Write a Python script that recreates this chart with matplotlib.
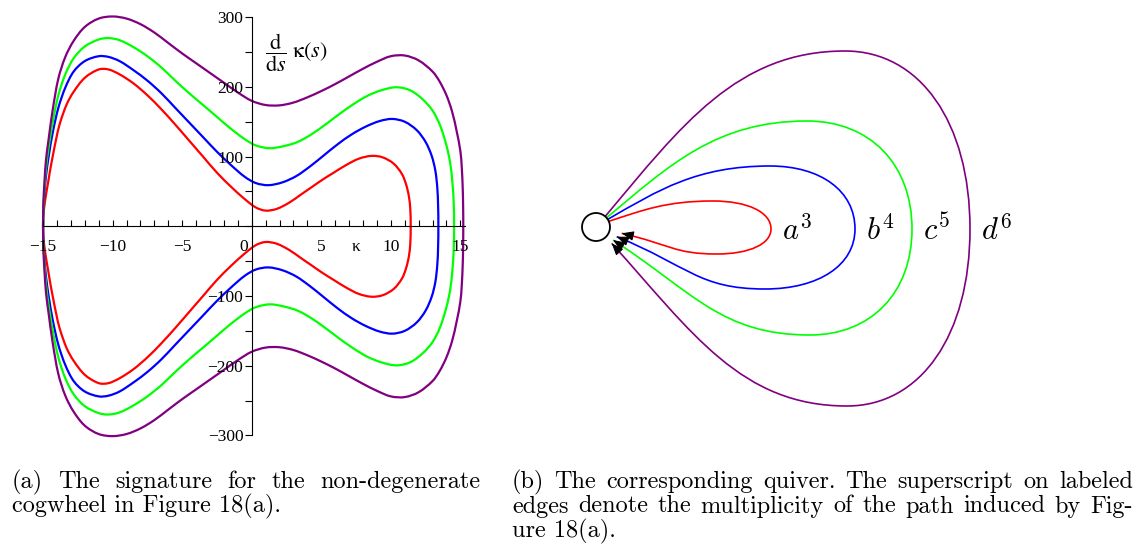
import numpy as np
import matplotlib
matplotlib.use('Agg')
import matplotlib.pyplot as plt
from matplotlib.path import Path
from matplotlib.patches import PathPatch, Circle
from matplotlib.ticker import MultipleLocator

# =========================
# DATA (upper branches, lower branch is the mirror)
# =========================
red_k = [-15.0, -14.97, -14.9, -14.79, -14.62, -14.47, -14.3, -14.05, -13.8, -13.3,
         -12.8, -12.0, -11.0, -10.3, -9.5, -8.5, -7.5, -6.5, -5.5, -4.5,
         -3.5, -2.5, -1.5, -0.5, 0.3, 1.0, 1.8, 2.7, 3.5, 4.3,
         5.1, 5.9, 6.8, 7.7, 8.6, 9.4, 10.2, 10.8, 11.1, 11.3, 11.4, 11.43]
red_y = [0, 17, 30, 45, 65, 83, 101, 126, 147, 175,
         193, 213, 225, 225, 218, 205, 188, 168, 146, 123,
         100, 77, 57, 39, 27, 22.5, 25, 34, 45, 56,
         67, 77, 88, 97, 101, 99, 90, 75, 60, 43, 25, 0]

blue_k = [-15.0, -14.97, -14.9, -14.79, -14.6, -14.3, -13.9, -13.4, -12.8, -12.0,
          -11.0, -10.3, -9.5, -8.5, -7.5, -6.5, -5.5, -4.5, -3.5, -2.5,
          -1.5, -0.5, 0.3, 1.2, 2.2, 3.2, 4.2, 5.2, 6.2, 7.2,
          8.2, 9.2, 10.1, 11.0, 11.86, 12.5, 12.94, 13.2, 13.34, 13.4, 13.42]
blue_y = [0, 27, 48, 72, 100, 135, 170, 199, 222, 237,
          244, 243, 237, 224, 209, 191, 170, 149, 128, 107,
          88, 71, 62, 59, 63, 72, 86, 102, 118, 132,
          143, 151, 154, 150, 138, 121, 101, 80, 56, 30, 0]

green_k = [-15.0, -14.97, -14.9, -14.79, -14.6, -14.3, -13.9, -13.4, -12.8, -12.0,
           -11.0, -10.3, -9.5, -8.5, -7.5, -6.5, -5.5, -4.5, -3.5, -2.5,
           -1.5, -0.5, 0.3, 1.3, 2.3, 3.3, 4.3, 5.3, 6.3, 7.3,
           8.3, 9.3, 10.4, 11.4, 12.3, 13.0, 13.54, 14.0, 14.26, 14.42, 14.52, 14.55]
green_y = [0, 30, 55, 83, 113, 150, 188, 218, 241, 258,
           268, 270, 267, 257, 244, 228, 209, 191, 174, 157,
           140, 125, 116, 112, 115, 121, 132, 146, 161, 175,
           187, 195, 199.5, 195, 182, 166, 145, 116, 92, 65, 35, 0]

purple_k = [-15.0, -14.97, -14.9, -14.79, -14.6, -14.3, -13.9, -13.4, -12.8, -12.0,
            -11.0, -10.0, -9.0, -8.0, -7.0, -6.0, -5.0, -4.0, -3.0, -2.0,
            -1.0, 0.0, 1.0, 2.0, 3.0, 4.0, 5.0, 6.0, 7.0, 8.0,
            9.0, 10.0, 11.0, 12.0, 13.0, 13.5, 14.0, 14.4, 14.74, 15.0,
            15.1, 15.17, 15.2, 15.21]
purple_y = [0, 35, 63, 95, 125, 168, 212, 243, 266, 286,
            298, 301, 298, 290, 278, 263, 248, 234, 220, 206,
            192, 180, 174, 173.5, 177.5, 185, 194, 204, 215, 226,
            236, 244, 245, 238, 222, 208, 188, 165, 136, 108,
            85, 55, 28, 0]

# quiver loops (node at 0,0; units = pixels, y up)
loop_labels = ['a', 'b', 'c', 'd']
loop_mult = [3, 4, 5, 6]
loop_right = [175, 259, 316, 374]
loop_top = [26, 61, 106, 176]
loop_top_x = [117, 174, 211, 249]
loop_bottom = [-27, -62, -108, -179]
loop_bottom_x = [121, 169, 214, 251]
start_angle = [24, 33, 41, 49]
depart_angle = [18, 30, 40, 50]
end_x = [25.7, 20.7, 17.0, 15.7]
end_y = [-6.3, -9.7, -13.0, -16.3]
arrive_angle = [13, 22, 33, 48]

colors = ['#ff0000', '#0000ff', '#00ff00', '#800080']

plt.rcParams['font.family'] = ['Liberation Serif', 'DejaVu Serif']

W, H = 1138, 555
fig = plt.figure(figsize=(W / 100, H / 100), dpi=100)

# screen scale of the left panel (px per unit), used only to space the spline
SX, SY = 13.91, 0.697


def closed_smooth_path(k, y):
    # closed curve: upper branch, then mirrored lower branch back
    k = np.array(k, dtype=float)
    y = np.array(y, dtype=float)
    px = np.concatenate([k, k[-2:0:-1]]) * SX
    py = np.concatenate([y, -y[-2:0:-1]]) * SY
    P = np.column_stack([px, py])
    n = len(P)
    # chord length spline through the read points
    d = np.array([np.hypot(*(P[(i + 1) % n] - P[i])) for i in range(n)])
    m = []
    for i in range(n):
        m.append((P[(i + 1) % n] - P[i - 1]) / (d[i - 1] + d[i]))
    verts = [P[0]]
    for i in range(n):
        j = (i + 1) % n
        verts += [P[i] + m[i] * d[i] / 3, P[j] - m[j] * d[i] / 3, P[j]]
    verts = np.array(verts) / [SX, SY]
    codes = [Path.MOVETO] + [Path.CURVE4] * (3 * n)
    return Path(verts, codes)


# =========================
# LEFT: SIGNATURE CURVES
# =========================
ax1 = fig.add_axes([40 / W, 1 - 442.6 / H, 428 / W, 432.6 / H])
ax1.set_xlim(-15.22, 15.55)
ax1.set_ylim(-310.3, 310.3)

curves = [(red_k, red_y), (blue_k, blue_y), (green_k, green_y), (purple_k, purple_y)]
for (k, y), c in zip(curves, colors):
    ax1.add_patch(PathPatch(closed_smooth_path(k, y), fill=False,
                            edgecolor=c, lw=1.6, joinstyle='round'))

ax1.spines['left'].set_position(('data', 0))
ax1.spines['bottom'].set_position(('data', 0))
ax1.spines['top'].set_visible(False)
ax1.spines['right'].set_visible(False)
ax1.spines['left'].set_bounds(-300, 300)
ax1.spines['bottom'].set_bounds(-15, 15.33)
for s in ['left', 'bottom']:
    ax1.spines[s].set_linewidth(0.8)

xt = [-15, -10, -5, 5, 10, 15]
ax1.set_xticks(xt)
ax1.set_xticklabels([str(v).replace('-', '\u2212') for v in xt])
ax1.xaxis.set_minor_locator(MultipleLocator(1))
ax1.tick_params(axis='x', which='both', direction='in', length=4, width=0.8,
                pad=9, labelsize=12.5)

yt = [-300, -200, -100, 100, 200, 300]
ax1.set_yticks(yt)
ax1.set_yticklabels([str(v).replace('-', '\u2212') for v in yt])
ax1.yaxis.set_minor_locator(MultipleLocator(50))
ax1.tick_params(axis='y', which='both', direction='out', length=5, width=0.8,
                pad=1, labelsize=12.5)

ax1.text(-0.58, -18, '0', ha='center', va='top', fontsize=12.5)
ax1.text(7.5, -18, '\u03ba', ha='center', va='top', fontsize=12.5)
ax1.text(0.95, 250, r'$\dfrac{\mathrm{d}}{\mathrm{d}s}\;\mathrm{\kappa}(s)$',
         math_fontfamily='stix', fontsize=16, ha='left', va='center')

# =========================
# RIGHT: QUIVER
# =========================
ax2 = fig.add_axes([560 / W, 1 - 460 / H, 578 / W, 460 / H])
ax2.set_xlim(-36, 542)
ax2.set_ylim(-233, 227)
ax2.axis('off')

kq = 0.6
for i in range(len(loop_labels)):
    sa = np.radians(start_angle[i])
    da = np.radians(depart_angle[i])
    aa = np.radians(arrive_angle[i])
    S = np.array([14 * np.cos(sa), 14 * np.sin(sa)])
    T = np.array([loop_top_x[i], loop_top[i]])
    R = np.array([loop_right[i], -2.0])
    B = np.array([loop_bottom_x[i], loop_bottom[i]])
    E = np.array([end_x[i], end_y[i]])

    a1 = 0.55 * (T[1] - S[1]) / np.sin(da)
    a4 = 0.55 * (E[1] - B[1]) / np.sin(aa)
    dep = np.array([np.cos(da), np.sin(da)])
    arr = np.array([np.cos(aa), -np.sin(aa)])

    verts = [S,
             S + a1 * dep, T - [0.45 * (T[0] - S[0]), 0], T,
             T + [kq * (R[0] - T[0]), 0], R + [0, kq * (T[1] - R[1])], R,
             R - [0, kq * (R[1] - B[1])], B + [kq * (R[0] - B[0]), 0], B,
             B - [0.45 * (B[0] - E[0]), 0], E + a4 * arr, E]
    codes = [Path.MOVETO] + [Path.CURVE4] * 12
    ax2.add_patch(PathPatch(Path(verts, codes), fill=False,
                            edgecolor=colors[i], lw=1.2))

    # black arrow head at the node
    ax2.annotate('', xy=E, xytext=E + 9 * arr,
                 arrowprops=dict(arrowstyle='-|>,head_length=0.45,head_width=0.18',
                                 color='black', lw=0.8, mutation_scale=16,
                                 shrinkA=0, shrinkB=0))

    ax2.text(loop_right[i] + 11, -13,
             r'$%s^{%d}$' % (loop_labels[i], loop_mult[i]),
             math_fontfamily='cm', fontsize=22, ha='left', va='baseline')

ax2.add_patch(Circle((0, 0), 14, facecolor='white', edgecolor='black', lw=1.3, zorder=5))

# =========================
# CAPTIONS
# =========================
cap_size = 17.5
renderer = fig.canvas.get_renderer()


def caption_line(line, x0, y_px, x1=None):
    if x1 is None:
        fig.text(x0 / W, 1 - y_px / H, line, fontfamily='cmr10',
                 fontsize=cap_size, va='baseline')
        return
    words = line.split(' ')
    items = [fig.text(0, 1 - y_px / H, w, fontfamily='cmr10',
                      fontsize=cap_size, va='baseline') for w in words]
    widths = [t.get_window_extent(renderer).width for t in items]
    gap = (x1 - x0 - sum(widths)) / (len(items) - 1)
    x = x0
    for t, w in zip(items, widths):
        t.set_x(x / W)
        x += w + gap


caption_line('(a) The signature for the non-degenerate', 12, 488, 480)
caption_line('cogwheel in Figure 18(a).', 12, 512.5)
caption_line('(b) The corresponding quiver. The superscript on labeled', 512, 488, 1133)
caption_line('edges denote the multiplicity of the path induced by Fig-', 512, 512.5, 1133)
caption_line('ure 18(a).', 512, 537)

fig.savefig('out.png', dpi=100)
